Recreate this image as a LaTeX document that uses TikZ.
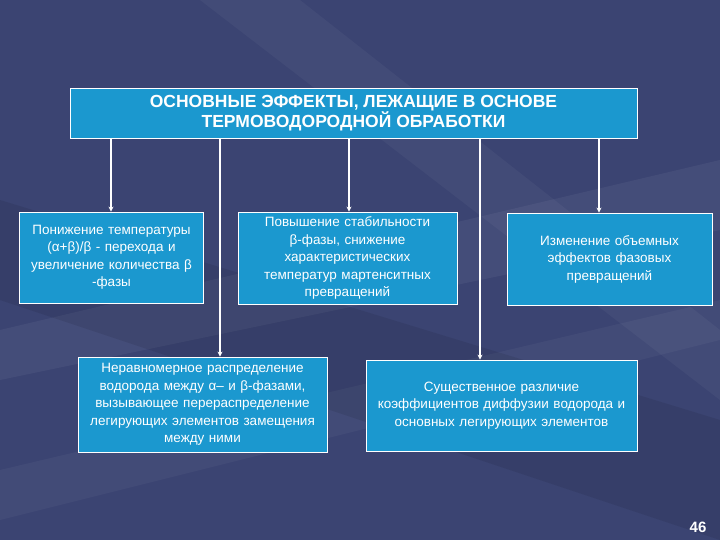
\documentclass[tikz,border=0pt]{standalone}
\usepackage{fontspec}
\setmainfont{Liberation Sans}
\usetikzlibrary{arrows.meta}
\begin{document}
\begin{tikzpicture}[x=1pt,y=-1pt,
  box/.style={draw=white,line width=0.8pt,fill=boxblue,text=white,align=center,inner sep=2pt,font=\fontsize{13.5}{17.5}\selectfont},
  arr/.style={draw=white,line width=1.2pt,-{Stealth[length=5pt,width=5pt]}}]
\definecolor{bg}{HTML}{3B4472}
\definecolor{boxblue}{HTML}{1B98CF}
\useasboundingbox (0,0) rectangle (720,540);
\fill[bg] (0,0) rectangle (720,540);
\fill[white,opacity=0.05] (0,330) -- (720,160) -- (720,230) -- (0,380) -- cycle;
\fill[white,opacity=0.04] (300,0) -- (720,330) -- (720,400) -- (200,0) -- cycle;
\fill[white,opacity=0.04] (0,470) -- (720,300) -- (720,340) -- (0,520) -- cycle;
\fill[black,opacity=0.08] (0,200) -- (720,420) -- (720,540) -- (0,300) -- cycle;
\node[box,font=\fontsize{17.5}{20}\selectfont\bfseries,minimum width=567pt,minimum height=50pt] (top) at (353.5,113) {ОСНОВНЫЕ ЭФФЕКТЫ, ЛЕЖАЩИЕ В ОСНОВЕ\\ТЕРМОВОДОРОДНОЙ ОБРАБОТКИ};
\node[box,minimum width=183pt,minimum height=91pt,text width=180pt] (b1) at (111.5,257.5) {Понижение температуры\\(α+β)/β - перехода и\\увеличение количества β\\-фазы};
\node[box,minimum width=219pt,minimum height=92pt,text width=215pt] (b2) at (347.5,258) {Повышение стабильности\\β-фазы, снижение\\характеристических\\температур мартенситных\\превращений};
\node[box,minimum width=205pt,minimum height=92pt,text width=200pt] (b3) at (609.5,259) {Изменение объемных\\эффектов фазовых\\превращений};
\node[box,minimum width=249pt,minimum height=95pt,text width=245pt] (b4) at (202.5,404.5) {Неравномерное распределение\\водорода между α– и β-фазами,\\вызывающее перераспределение\\легирующих элементов замещения\\между ними};
\node[box,minimum width=271pt,minimum height=91pt,text width=265pt] (b5) at (501.5,405.5) {Существенное различие\\коэффициентов диффузии водорода и\\основных легирующих элементов};
\coordinate (c1) at (111,138); \coordinate (c2) at (349,138); \coordinate (c3) at (599,138);
\coordinate (c4) at (220,138); \coordinate (c5) at (480,138);
\draw[arr] (c1) -- (c1 |- b1.north);
\draw[arr] (c2) -- (c2 |- b2.north);
\draw[arr] (c3) -- (c3 |- b3.north);
\draw[arr] (c4) -- (c4 |- b4.north);
\draw[arr] (c5) -- (c5 |- b5.north);
\node[text=white,font=\fontsize{15}{15}\selectfont\bfseries] (pg) at (698,527) {46};
\end{tikzpicture}
\end{document}
